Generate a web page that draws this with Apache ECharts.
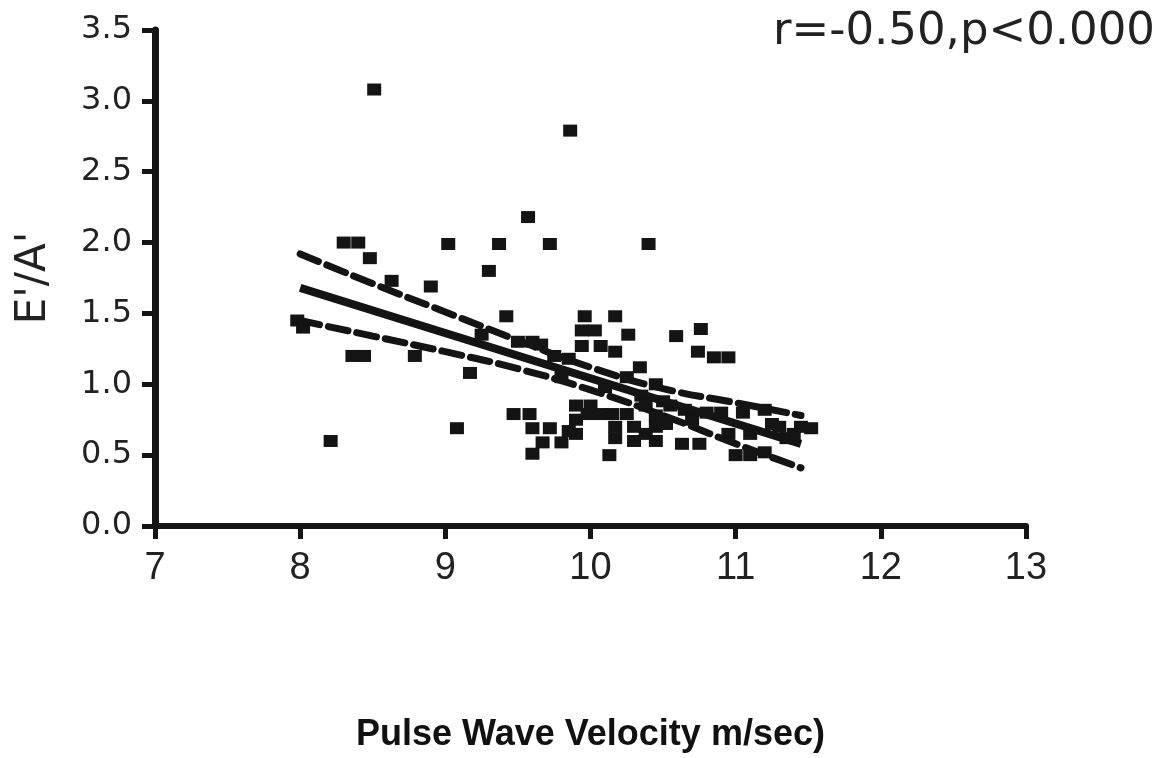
<!DOCTYPE html>
<html>
<head>
<meta charset="utf-8">
<title>E'/A' vs PWV</title>
<script src="https://cdn.jsdelivr.net/npm/echarts@6/dist/echarts.min.js"></script>
<style>
  html, body { margin: 0; padding: 0; background: #fff; }
  #chart { width: 1172px; height: 758px; }
</style>
</head>
<body>
<div id="chart"></div>
<script>
// ============================================================================
// Data
let pwv = [
  7.98, 8.02, 8.21, 8.30, 8.40, 8.48, 8.36, 8.44, 8.51, 8.63,
  8.79, 8.90, 9.02, 9.08, 9.17, 9.37, 9.30, 9.57, 9.72, 9.86,
  10.40, 9.42, 9.96, 10.17, 9.94, 10.03, 10.26, 9.94, 10.07, 10.17,
  10.59, 10.76, 10.74, 10.85, 10.95, 9.47, 9.58, 9.60, 9.72, 9.67,
  9.80, 9.60, 9.90, 9.90, 9.90, 9.98, 10.07, 10.15, 10.25, 10.13,
  10.17, 10.17, 10.30, 10.45, 10.30, 10.45, 10.63, 10.75, 11.00, 11.10,
  11.20, 11.52, 10.95, 11.10, 11.05, 11.20, 9.50, 9.60, 9.66, 9.80,
  10.34, 10.55, 11.30, 11.40, 11.45, 9.25, 10.70, 10.90, 9.75, 9.85,
  9.85, 10.00, 10.10, 10.35, 10.50, 10.65, 10.80, 10.25, 10.45, 10.38,
  10.45, 10.52, 10.38, 11.35, 11.25
];
let ea = [
  1.45, 1.40, 0.60, 2.00, 2.00, 1.89, 1.20, 1.20, 3.08, 1.73,
  1.20, 1.69, 1.99, 0.69, 1.08, 1.99, 1.80, 2.18, 1.99, 2.79,
  1.99, 1.48, 1.48, 1.48, 1.38, 1.38, 1.35, 1.27, 1.27, 1.23,
  1.34, 1.39, 1.23, 1.19, 1.19, 0.79, 0.79, 0.69, 0.69, 0.59,
  0.59, 0.51, 0.85, 0.75, 0.65, 0.79, 0.79, 0.79, 0.79, 0.50,
  0.70, 0.62, 0.70, 0.70, 0.60, 0.60, 0.58, 0.58, 0.50, 0.50,
  0.52, 0.69, 0.65, 0.65, 0.80, 0.82, 1.30, 1.30, 1.28, 1.05,
  1.12, 0.85, 0.70, 0.65, 0.70, 1.35, 0.75, 0.80, 1.20, 1.18,
  0.67, 0.85, 0.98, 0.92, 0.88, 0.82, 0.80, 1.05, 1.00, 0.85,
  0.78, 0.72, 0.65, 0.62, 0.72
];

// regression line and 95% band
let fitX = [8.0, 11.45];
let fitY = [1.68, 0.58];
let bandX = [8.0, 8.5, 9.0, 9.5, 10.0, 10.5, 11.0, 11.45];
let bandUpper = [1.92, 1.71, 1.51, 1.31, 1.12, 0.97, 0.87, 0.78];
let bandLower = [1.45, 1.34, 1.23, 1.11, 0.96, 0.78, 0.58, 0.41];

let xTicks = [7, 13, 1];
let yTicks = [0, 3.5, 0.5];
let statText = 'r=-0.50,p<0.000';

function zip(xs, ys) {
  'use strict';
  return xs.map(function (x, i) { return [x, ys[i]]; });
}

// ============================================================================
let ink = '#141414';
let dom = document.getElementById('chart');
let chart = echarts.init(dom, null, {renderer: 'canvas'});

let option = {
  animation: false,
  backgroundColor: '#fff',
  title: {
    text: statText,
    right: 17,
    top: 10,
    padding: 0,
    textStyle: {
      fontFamily: 'DejaVu Sans',
      fontSize: 45,
      fontWeight: 'normal',
      color: '#222'
    }
  },
  grid: {left: 155, right: 146, top: 30, bottom: 228},
  xAxis: {
    type: 'value',
    min: xTicks[0],
    max: xTicks[1],
    interval: xTicks[2],
    name: 'Pulse Wave Velocity m/sec)',
    nameLocation: 'middle',
    nameGap: 191,
    nameTextStyle: {
      fontFamily: "'Liberation Sans Narrow', 'Liberation Sans', sans-serif",
      fontWeight: 'bold',
      fontSize: 36,
      color: '#111'
    },
    splitLine: {show: false},
    axisLine: {lineStyle: {color: ink, width: 6}},
    axisTick: {length: 13, lineStyle: {color: ink, width: 5}},
    axisLabel: {
      margin: 24,
      fontFamily: 'Liberation Sans',
      fontSize: 38,
      color: '#222'
    }
  },
  yAxis: {
    type: 'value',
    min: yTicks[0],
    max: yTicks[1],
    interval: yTicks[2],
    name: "E'/A'",
    nameLocation: 'middle',
    nameRotate: 90,
    nameGap: 100,
    nameTextStyle: {
      fontFamily: 'DejaVu Sans',
      fontSize: 42,
      color: '#222'
    },
    splitLine: {show: false},
    axisLine: {show: true, lineStyle: {color: ink, width: 7}},
    axisTick: {show: true, length: 13, lineStyle: {color: ink, width: 5}},
    axisLabel: {
      margin: 23,
      fontFamily: 'DejaVu Sans',
      fontSize: 32,
      color: '#222',
      formatter: function (v) { return v.toFixed(1); }
    }
  },
  series: [
    {
      name: 'patients',
      type: 'scatter',
      data: zip(pwv, ea),
      symbol: 'rect',
      symbolSize: [14, 12],
      itemStyle: {color: ink, opacity: 1}
    },
    {
      name: 'fit',
      type: 'line',
      data: zip(fitX, fitY),
      showSymbol: false,
      lineStyle: {color: ink, width: 8}
    },
    {
      name: 'upper',
      type: 'line',
      data: zip(bandX, bandUpper),
      smooth: true,
      showSymbol: false,
      lineStyle: {color: ink, width: 7, type: [20, 9], cap: 'round'}
    },
    {
      name: 'lower',
      type: 'line',
      data: zip(bandX, bandLower),
      smooth: true,
      showSymbol: false,
      lineStyle: {color: ink, width: 7, type: [20, 9], cap: 'round'}
    }
  ]
};

option && chart.setOption(option);
</script>
</body>
</html>
